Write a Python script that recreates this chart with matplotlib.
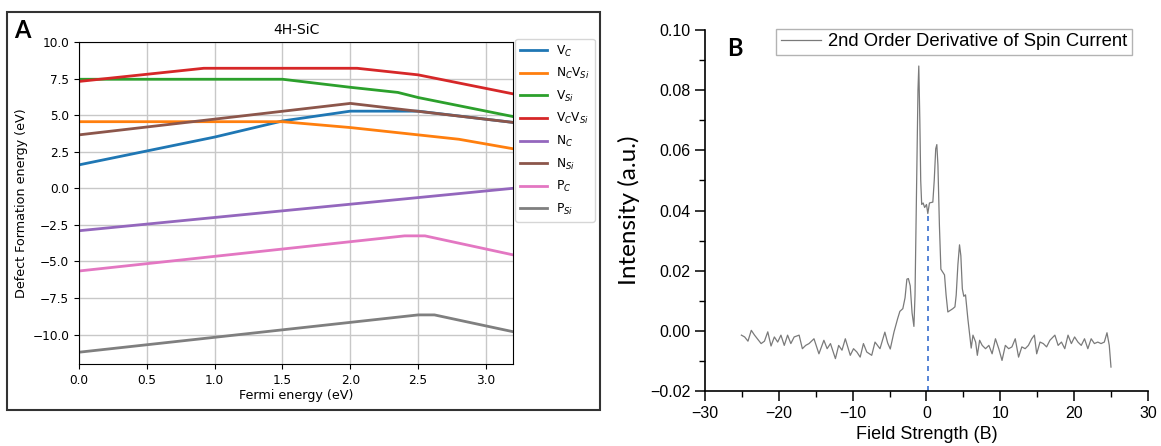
import matplotlib.pyplot as plt
from matplotlib.patches import Rectangle

# panel A: defect formation energies vs Fermi level (4H-SiC)
defects = ['V$_C$', 'N$_C$V$_{Si}$', 'V$_{Si}$', 'V$_C$V$_{Si}$',
           'N$_C$', 'N$_{Si}$', 'P$_C$', 'P$_{Si}$']

vc_x = [0.0, 1.0, 1.5, 2.0, 2.5, 3.2]
vc_y = [1.6, 3.5, 4.6, 5.27, 5.27, 4.5]
ncvsi_x = [0.0, 1.5, 2.0, 2.5, 2.8, 3.2]
ncvsi_y = [4.55, 4.55, 4.15, 3.65, 3.35, 2.7]
vsi_x = [0.0, 1.5, 2.0, 2.35, 2.5, 3.2]
vsi_y = [7.45, 7.45, 6.9, 6.55, 6.2, 4.9]
vcvsi_x = [0.0, 0.92, 2.05, 2.5, 3.2]
vcvsi_y = [7.3, 8.2, 8.2, 7.75, 6.45]
nc_x = [0.0, 3.2]
nc_y = [-2.9, 0.0]
nsi_x = [0.0, 2.0, 3.2]
nsi_y = [3.65, 5.8, 4.5]
pc_x = [0.0, 2.4, 2.55, 3.2]
pc_y = [-5.65, -3.25, -3.25, -4.55]
psi_x = [0.0, 2.5, 2.62, 3.2]
psi_y = [-11.2, -8.65, -8.65, -9.8]

# panel B: 2nd order derivative of spin current
field = [-25.04, -24.6, -24.15, -23.7, -23.26, -22.81, -22.37, -21.92, -21.47,
         -21.03, -20.58, -20.13, -19.69, -19.24, -18.79, -18.35, -17.9, -17.23,
         -16.79, -16.34, -15.89, -15.22, -14.55, -13.88, -13.44, -12.99, -12.32,
         -11.88, -11.43, -10.98, -10.31, -9.87, -9.42, -8.97, -8.53, -8.08,
         -7.41, -6.96, -6.29, -5.63, -5.25,
         -4.9, -4.4, -3.9, -3.6, -3.2, -2.9, -2.65, -2.45, -2.2, -1.95, -1.7,
         -1.55, -1.35, -1.15, -1.04, -0.9, -0.78, -0.65, -0.45, -0.25, 0.0,
         0.18, 0.4, 0.86, 1.05, 1.25, 1.4, 1.55, 1.75, 1.95, 2.2, 2.44, 2.65,
         2.89, 3.2, 3.57, 3.85, 4.02, 4.25, 4.47, 4.65, 4.85, 5.05, 5.28, 5.6,
         6.05,
         6.29, 6.65, 6.88, 7.19, 7.54, 7.99, 8.44, 8.88, 9.33, 9.78, 10.22,
         10.67, 11.12, 11.56, 12.01, 12.46, 12.9, 13.35, 13.79, 14.24, 14.6,
         14.91, 15.36, 15.8, 16.25, 16.7, 17.37, 17.81, 18.26, 18.71, 19.15,
         19.6, 20.04, 20.49, 20.94, 21.38, 21.83, 22.28, 22.72, 23.17, 23.62,
         24.06, 24.42, 24.73, 24.96]
intensity = [-0.0014, -0.0020, -0.0034, 0.0002, -0.0014, -0.0028, -0.0042,
             -0.0034, -0.0003, -0.0050, -0.0020, -0.0037, -0.0014, -0.0048,
             -0.0014, -0.0042, -0.0020, -0.0014, -0.0059, -0.0048, -0.0042,
             -0.0026, -0.0076, -0.0031, -0.0059, -0.0042, -0.0092, -0.0048,
             -0.0064, -0.0026, -0.0081, -0.0059, -0.0070, -0.0087, -0.0042,
             -0.0070, -0.0081, -0.0037, -0.0059, -0.0004, -0.0040,
             -0.0060, -0.0004, 0.0041, 0.0065, 0.0074, 0.011, 0.0172, 0.0174,
             0.015, 0.006, 0.0015, 0.012, 0.045, 0.080, 0.088, 0.070, 0.050,
             0.042, 0.0425, 0.041, 0.042, 0.039, 0.0425, 0.0428, 0.050, 0.0605,
             0.0619, 0.055, 0.035, 0.0205, 0.0195, 0.0186, 0.012, 0.0063,
             0.0068, 0.0074, 0.008, 0.0119, 0.022, 0.0286, 0.025, 0.014,
             0.0115, 0.012, 0.004, -0.0057,
             -0.0014, -0.0037, -0.0081, -0.0031, -0.0048, -0.0059, -0.0048,
             -0.0076, -0.0026, -0.0059, -0.0098, -0.0048, -0.0059, -0.0053,
             -0.0026, -0.0087, -0.0053, -0.0059, -0.0048, -0.0026, -0.0014,
             -0.0076, -0.0037, -0.0042, -0.0053, -0.0031, -0.0014, -0.0048,
             -0.0037, -0.0059, -0.0014, -0.0042, -0.0020, -0.0037, -0.0048,
             -0.0026, -0.0059, -0.0026, -0.0042, -0.0037, -0.0042, -0.0037,
             -0.0006, -0.0048, -0.0120]
marker_field = 0.18

fig = plt.figure(figsize=(11.61, 4.46), dpi=100)

# frame around panel A
fig.patches.append(Rectangle((0.006, 0.081), 0.511, 0.892, transform=fig.transFigure,
                             fill=False, edgecolor='#333333', linewidth=1.5))

ax = fig.add_axes([0.068, 0.184, 0.374, 0.722])
series = [(vc_x, vc_y), (ncvsi_x, ncvsi_y), (vsi_x, vsi_y), (vcvsi_x, vcvsi_y),
          (nc_x, nc_y), (nsi_x, nsi_y), (pc_x, pc_y), (psi_x, psi_y)]
for (xs, ys), name in zip(series, defects):
    ax.plot(xs, ys, lw=2, label=name)
ax.set_xlim(0, 3.2)
ax.set_ylim(-12, 10)
ax.set_yticks([-10, -7.5, -5, -2.5, 0, 2.5, 5, 7.5, 10])
ax.grid(True, color='#c8c8c8', lw=1)
ax.tick_params(labelsize=8.7)
ax.set_title('4H-SiC', fontsize=10)
ax.set_xlabel('Fermi energy (eV)', fontsize=9.2, labelpad=2)
ax.set_ylabel('Defect Formation energy (eV)', fontsize=9.2, labelpad=3)
ax.legend(loc='upper left', bbox_to_anchor=(1.005, 1.01), fontsize=8.7,
          handlelength=2.2, labelspacing=0.62, borderaxespad=0)
fig.text(0.012, 0.915, 'A', fontsize=17, fontweight='bold', family='Lato')

# panel B
bx = fig.add_axes([0.607, 0.123, 0.382, 0.81])
bx.plot(field, intensity, color='#7a7a7a', lw=0.9,
        label='2nd Order Derivative of Spin Current')
bx.vlines(marker_field, -0.02, 0.0395, colors='#3a6fd0', linestyles=(0, (3, 3)), lw=1.2)
bx.set_xlim(-30, 30)
bx.set_ylim(-0.02, 0.10)
bx.set_xticks(range(-30, 31, 10))
bx.set_xticks(range(-25, 30, 10), minor=True)
bx.set_yticks([-0.02, 0.0, 0.02, 0.04, 0.06, 0.08, 0.10])
bx.set_yticks([-0.01, 0.01, 0.03, 0.05, 0.07, 0.09], minor=True)
bx.yaxis.set_major_formatter(plt.FuncFormatter(lambda v, p: f'{v:.2f}'.replace('-', '\u2212')))
bx.spines['top'].set_visible(False)
bx.spines['right'].set_visible(False)
for s in ('left', 'bottom'):
    bx.spines[s].set_linewidth(1.2)
bx.tick_params(which='major', direction='out', length=7, width=1.1,
               labelsize=11.5, labelfontfamily='Liberation Sans')
bx.tick_params(which='minor', direction='out', length=4, width=1.0)
bx.set_xlabel('Field Strength (B)', fontsize=13, family='Liberation Sans', labelpad=4)
bx.set_ylabel('Intensity (a.u.)', fontsize=17.5, family='Lato', labelpad=7)
leg = bx.legend(loc='upper right', bbox_to_anchor=(0.963, 1.003),
                prop={'family': 'Liberation Sans', 'size': 13.3}, fancybox=False,
                handlelength=2.2, handletextpad=0.35, borderpad=0.25, borderaxespad=0)
leg.get_frame().set_edgecolor('#a0a0a0')
leg.get_frame().set_linewidth(1.0)
fig.text(0.626, 0.875, 'B', fontsize=17, fontweight='bold', family='Lato')

fig.savefig('out.png', dpi=100)
